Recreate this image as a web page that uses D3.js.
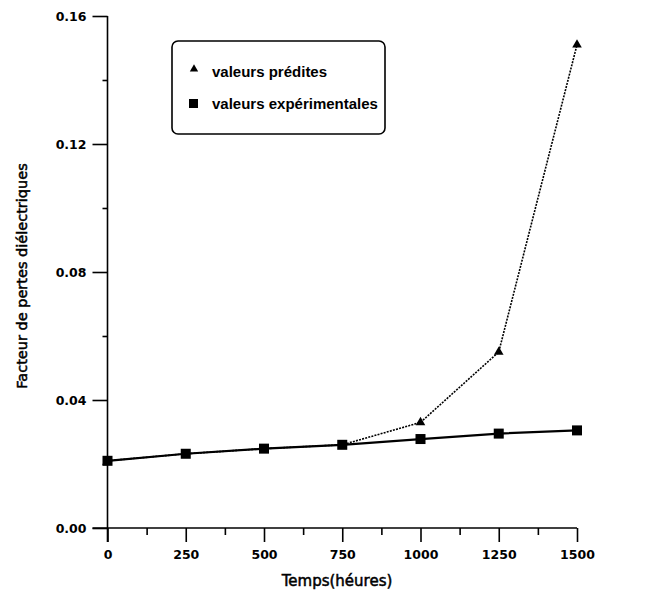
<!DOCTYPE html>
<html>
<head>
<meta charset="utf-8">
<script src="https://cdn.jsdelivr.net/npm/d3@7"></script>
<style>
  html, body { margin: 0; padding: 0; background: #fff; }
  svg { display: block; font-family: "DejaVu Sans", "Liberation Sans", sans-serif; }
</style>
</head>
<body>
<svg id="chart" width="645" height="598"></svg>
<script>
// Time in hours
const hours = [0, 250, 500, 750, 1000, 1250, 1500];
// Dielectric loss factor — measured
const experimental = [0.021, 0.0232, 0.0248, 0.026, 0.0278, 0.0295, 0.0305];
// Dielectric loss factor — predicted
const predicted = [0.021, 0.0232, 0.0248, 0.026, 0.033, 0.055, 0.151];
const xTicks = [0, 250, 500, 750, 1000, 1250, 1500];
const yTicks = [0.00, 0.04, 0.08, 0.12, 0.16];
const legendLabels = ["valeurs prédites", "valeurs expérimentales"];

const svg = d3.select("#chart");
const x = d3.scaleLinear().domain([0, 1500]).range([107.5, 577]);
const y = d3.scaleLinear().domain([0, 0.16]).range([528, 16]);

// Axes
const xAxis = svg.append("g").attr("transform", `translate(0,${y(0)})`)
  .call(d3.axisBottom(x).tickValues(xTicks).tickFormat(d3.format("d")).tickSize(14).tickPadding(8));
const xMinor = svg.append("g").attr("transform", `translate(0,${y(0)})`)
  .call(d3.axisBottom(x).tickValues(d3.range(125, 1500, 250)).tickSize(7).tickFormat(""));
const yAxis = svg.append("g").attr("transform", `translate(${x(0)},0)`)
  .call(d3.axisLeft(y).tickValues(yTicks).tickFormat(d3.format(".2f")).tickSize(15).tickPadding(6));
const yMinor = svg.append("g").attr("transform", `translate(${x(0)},0)`)
  .call(d3.axisLeft(y).tickValues([0.02, 0.06, 0.10, 0.14]).tickSize(5).tickFormat(""));

[xAxis, xMinor, yAxis, yMinor].forEach(g => {
  g.select(".domain").remove();
  g.attr("font-family", "'DejaVu Sans', sans-serif").attr("font-size", 12.5);
  g.selectAll("line").attr("stroke", "#000").attr("stroke-width", 1.6);
  g.selectAll("text").attr("fill", "#000").style("font-weight", "bold");
});
// Axis lines, slightly overrunning the origin
svg.append("line").attr("x1", x(0) - 15).attr("x2", x(1500)).attr("y1", y(0)).attr("y2", y(0))
  .attr("stroke", "#000").attr("stroke-width", 1.6);
svg.append("line").attr("x1", x(0)).attr("x2", x(0)).attr("y1", y(0.16)).attr("y2", y(0) + 14)
  .attr("stroke", "#000").attr("stroke-width", 1.6);

// Axis titles
svg.append("text").attr("x", 337).attr("y", 586).attr("text-anchor", "middle")
  .style("font-size", "15px").attr("stroke", "#000").attr("stroke-width", 0.5)
  .text("Temps(héures)");
svg.append("text").attr("transform", `translate(27,276) rotate(-90)`).attr("text-anchor", "middle")
  .style("font-size", "14.5px").attr("stroke", "#000").attr("stroke-width", 0.5)
  .text("Facteur de pertes diélectriques");

// Predicted series: dotted line with triangles
const predData = hours.map((h, i) => ({ h, v: predicted[i] }));
const expData = hours.map((h, i) => ({ h, v: experimental[i] }));
const line = d3.line().x(d => x(d.h)).y(d => y(d.v));

svg.append("path").datum(predData).attr("d", line).attr("fill", "none")
  .attr("stroke", "#000").attr("stroke-width", 1.6).attr("stroke-dasharray", "2,1.2");
const tri = d3.symbol().type(d3.symbolTriangle).size(40);
svg.selectAll(".tri").data(predData.filter(d => d.h >= 1000)).join("path")
  .attr("transform", d => `translate(${x(d.h)},${y(d.v)})`).attr("d", tri).attr("fill", "#000");

// Experimental series: solid line with squares
svg.append("path").datum(expData).attr("d", line).attr("fill", "none")
  .attr("stroke", "#000").attr("stroke-width", 2.2);
svg.selectAll(".sq").data(expData).join("rect")
  .attr("x", d => x(d.h) - 5).attr("y", d => y(d.v) - 5)
  .attr("width", 10).attr("height", 10).attr("fill", "#000");

// Legend
const lg = svg.append("g");
lg.append("rect").attr("x", 172).attr("y", 41).attr("width", 213).attr("height", 93)
  .attr("rx", 6).attr("fill", "none").attr("stroke", "#000").attr("stroke-width", 1.6);
lg.append("path").attr("transform", "translate(194,69)").attr("d", d3.symbol().type(d3.symbolTriangle).size(30)).attr("fill", "#000");
lg.append("rect").attr("x", 189).attr("y", 99).attr("width", 9).attr("height", 9).attr("fill", "#000");
lg.selectAll(".lt").data(legendLabels).join("text")
  .attr("x", 212).attr("y", (d, i) => 77 + i * 32)
  .style("font-family", "'Liberation Sans', sans-serif")
  .style("font-size", "15px").style("font-weight", "bold").text(d => d);
</script>
</body>
</html>
